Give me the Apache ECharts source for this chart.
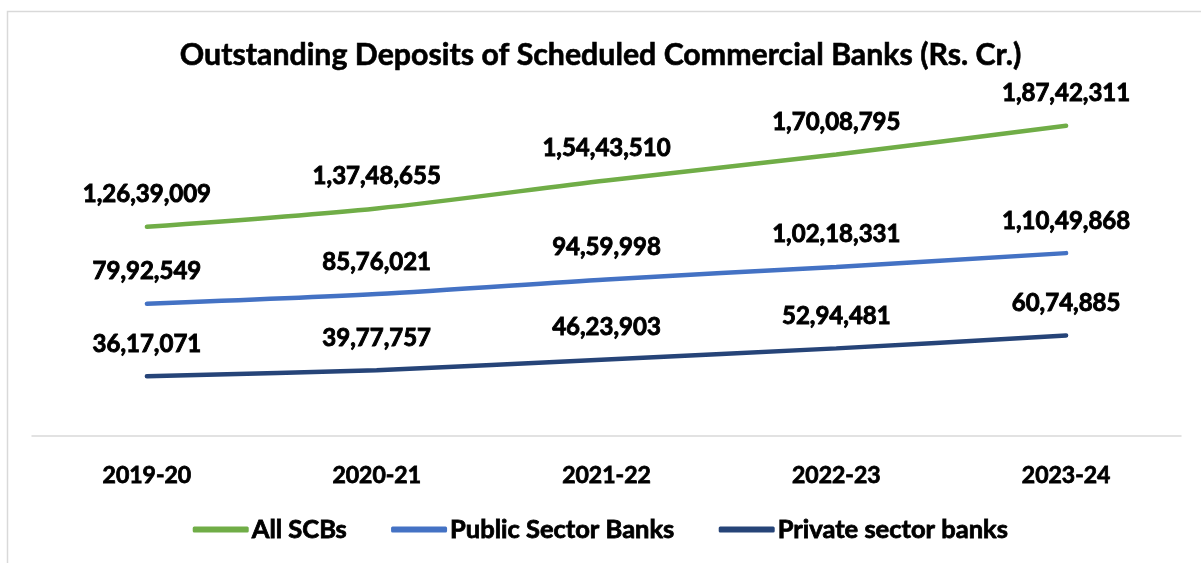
<!DOCTYPE html>
<html>
<head>
<meta charset="utf-8">
<script src="https://cdn.jsdelivr.net/npm/echarts@6/dist/echarts.min.js"></script>
<style>
html,body{margin:0;padding:0;background:#fff;}
#chart{width:1201px;height:563px;}
</style>
</head>
<body>
<div id="chart"></div>
<script>
const categories = ['2019-20', '2020-21', '2021-22', '2022-23', '2023-24'];
const allSCBs = [12639009, 13748655, 15443510, 17008795, 18742311];
const publicSector = [7992549, 8576021, 9459998, 10218331, 11049868];
const privateSector = [3617071, 3977757, 4623903, 5294481, 6074885];
const seriesNames = ['All SCBs', 'Public Sector Banks', 'Private sector banks'];
const colors = ['#70AD47', '#4472C4', '#264478'];

function indianFormat(n) {
  const s = String(Math.round(n));
  if (s.length <= 3) return s;
  const last3 = s.slice(-3);
  let rest = s.slice(0, -3);
  const parts = [];
  while (rest.length > 2) {
    parts.unshift(rest.slice(-2));
    rest = rest.slice(0, -2);
  }
  if (rest.length) parts.unshift(rest);
  return parts.join(',') + ',' + last3;
}

const FONT = 'Lato';
const chart = echarts.init(document.getElementById('chart'));

function mkSeries(name, data, color) {
  return {
    name: name,
    type: 'line',
    data: data,
    smooth: 0.3,
    symbol: 'circle',
    symbolSize: 0.5,
    showSymbol: true,
    lineStyle: { color: color, width: 4.5, cap: 'round' },
    itemStyle: { color: color },
    label: {
      show: true,
      position: 'top',
      distance: 20,
      fontFamily: FONT,
      fontWeight: 'bold',
      fontSize: 24,
      color: '#000',
      textBorderWidth: 0.9,
      textBorderColor: '#000',
      formatter: p => indianFormat(p.value)
    },
    emphasis: { disabled: true },
    labelLayout: { hideOverlap: false }
  };
}

chart.setOption({
  animation: false,
  backgroundColor: '#fff',
  title: {
    text: 'Outstanding Deposits of Scheduled Commercial Banks (Rs. Cr.)',
    left: 'center',
    top: 35,
    textStyle: { fontFamily: FONT, fontWeight: 'bold', fontSize: 30.3, color: '#000', textBorderWidth: 0.6, textBorderColor: '#000' }
  },
  legend: {
    data: seriesNames.map((n, i) => ({ name: n, icon: 'roundRect', itemStyle: { color: colors[i] } })),
    bottom: 15,
    left: 'center',
    itemWidth: 56,
    itemHeight: 6,
    itemGap: 44,
    textStyle: { fontFamily: FONT, fontWeight: 'bold', fontSize: 25.5, color: '#000', padding: [0, 0, 0, -2], textBorderWidth: 0.8, textBorderColor: '#000' }
  },
  grid: { left: 32, right: 20, top: 105, bottom: 127, containLabel: false },
  xAxis: {
    type: 'category',
    data: categories,
    boundaryGap: true,
    axisLine: { lineStyle: { color: '#d9d9d9', width: 1.5 } },
    axisTick: { show: false },
    axisLabel: { fontFamily: FONT, fontWeight: 'bold', fontSize: 23, color: '#000', margin: 28, textBorderWidth: 0.8, textBorderColor: '#000' }
  },
  yAxis: {
    type: 'value',
    min: 0,
    max: 20000000,
    show: false,
    splitLine: { show: false }
  },
  graphic: [{
    type: 'rect',
    shape: { x: 7.5, y: 11.5, width: 1300, height: 700 },
    style: { fill: 'none', stroke: '#d9d9d9', lineWidth: 1.5 },
    silent: true,
    z: -10
  }],
  series: [
    mkSeries(seriesNames[0], allSCBs, colors[0]),
    mkSeries(seriesNames[1], publicSector, colors[1]),
    mkSeries(seriesNames[2], privateSector, colors[2])
  ]
});
</script>
</body>
</html>
